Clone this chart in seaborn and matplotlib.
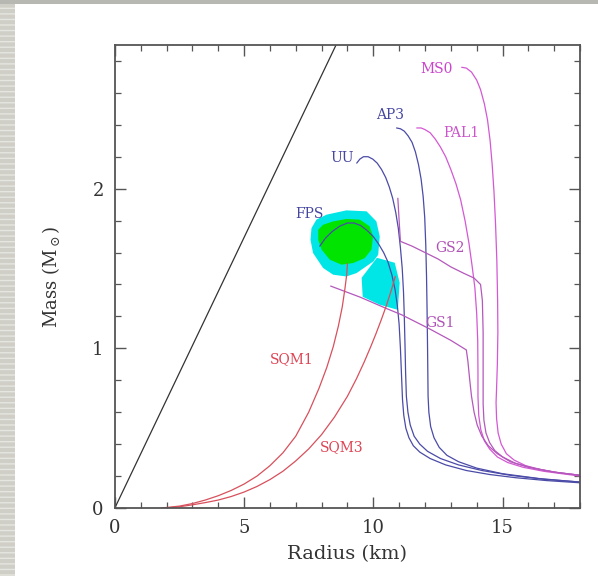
import numpy as np
import matplotlib
matplotlib.use("Agg")
import matplotlib.pyplot as plt
import seaborn as sns
from matplotlib.patches import Rectangle

# mass-radius curves (radius km, mass Msun)
bh_r = [0.0, 8.56]
bh_m = [0.0, 2.90]

fps_r = [7.93, 8.15, 8.4, 8.7, 9.0, 9.25, 9.5, 9.75, 10.0, 10.2, 10.4, 10.57, 10.72, 10.84, 10.93, 11.0, 11.05,
         11.1, 11.13, 11.18, 11.26, 11.38, 11.55, 11.8, 12.2, 12.8, 13.6, 14.5, 15.5, 16.7, 18.0]
fps_m = [1.64, 1.69, 1.73, 1.765, 1.785, 1.785, 1.77, 1.74, 1.7, 1.655, 1.6, 1.54, 1.46, 1.37, 1.27, 1.15, 1.0,
         0.8, 0.68, 0.58, 0.5, 0.44, 0.39, 0.35, 0.31, 0.27, 0.235, 0.21, 0.19, 0.172, 0.158]

uu_r = [9.36, 9.48, 9.62, 9.8, 9.98, 10.15, 10.32, 10.48, 10.62, 10.75, 10.87, 10.97, 11.05, 11.12, 11.17, 11.2,
        11.23, 11.25, 11.28, 11.34, 11.43, 11.58, 11.8, 12.1, 12.6, 13.3, 14.2, 15.3, 16.6, 18.0]
uu_m = [2.16, 2.185, 2.2, 2.2, 2.185, 2.16, 2.12, 2.07, 2.01, 1.94, 1.85, 1.75, 1.63, 1.5, 1.35, 1.2,
        1.0, 0.85, 0.7, 0.6, 0.52, 0.45, 0.4, 0.355, 0.31, 0.27, 0.235, 0.205, 0.18, 0.163]

ap3_r = [10.9, 11.05, 11.2, 11.35, 11.5, 11.63, 11.75, 11.85, 11.93, 11.99, 12.03, 12.06, 12.08, 12.1, 12.12,
         12.15, 12.22, 12.35, 12.55, 12.85, 13.3, 14.0, 15.0, 16.4, 18.0]
ap3_m = [2.38, 2.375, 2.36, 2.33, 2.29, 2.23, 2.15, 2.06, 1.95, 1.82, 1.65, 1.45, 1.25, 1.0, 0.7,
         0.6, 0.51, 0.44, 0.38, 0.33, 0.29, 0.25, 0.215, 0.185, 0.162]

ms0_r = [13.42, 13.6, 13.8, 14.0, 14.15, 14.3, 14.42, 14.52, 14.6, 14.67, 14.73, 14.78, 14.81, 14.82, 14.8,
         14.77, 14.75, 14.77, 14.83, 14.95, 15.15, 15.45, 15.9, 16.5, 17.2, 18.0]
ms0_m = [2.76, 2.755, 2.73, 2.68, 2.62, 2.53, 2.43, 2.3, 2.15, 1.98, 1.78, 1.55, 1.3, 1.1, 0.9,
         0.75, 0.66, 0.56, 0.47, 0.4, 0.34, 0.3, 0.265, 0.24, 0.22, 0.205]

pal1_r = [11.68, 11.85, 12.0, 12.2, 12.4, 12.6, 12.8, 13.0, 13.2, 13.38, 13.55, 13.7, 13.82, 13.93, 14.0, 14.04,
          14.05, 14.05, 14.08, 14.16, 14.3, 14.5, 14.8, 15.2, 15.8, 16.6, 17.3, 18.0]
pal1_m = [2.38, 2.38, 2.37, 2.35, 2.31, 2.26, 2.2, 2.12, 2.03, 1.93, 1.8, 1.66, 1.52, 1.38, 1.22, 1.05,
          0.85, 0.7, 0.58, 0.49, 0.42, 0.37, 0.32, 0.285, 0.255, 0.23, 0.215, 0.2]

gs2_r = [10.95, 11.0, 11.05, 11.5, 12.0, 12.5, 13.0, 13.5, 13.9, 14.15, 14.22, 14.25, 14.25, 14.25, 14.28,
         14.36, 14.5, 14.7, 15.0, 15.5, 16.2, 17.0, 18.0]
gs2_m = [1.94, 1.8, 1.67, 1.64, 1.6, 1.56, 1.51, 1.47, 1.44, 1.4, 1.3, 1.1, 0.85, 0.65, 0.55,
         0.47, 0.41, 0.36, 0.32, 0.28, 0.25, 0.225, 0.205]

gs1_r = [8.35, 9.5, 10.5, 11.1, 12.2, 13.0, 13.6, 13.66, 13.72, 13.8, 13.9, 14.02, 14.2, 14.45, 14.8, 15.3,
         16.0, 17.0, 18.0]
gs1_m = [1.39, 1.32, 1.25, 1.21, 1.12, 1.05, 0.99, 0.92, 0.82, 0.7, 0.6, 0.52, 0.45, 0.39, 0.34, 0.29,
         0.255, 0.225, 0.205]

sqm1_r = [1.8, 2.5, 3.0, 3.5, 4.0, 4.5, 5.0, 5.5, 6.0, 6.5, 7.0, 7.5, 7.9, 8.2, 8.45, 8.65, 8.8, 8.9, 8.97, 9.0]
sqm1_m = [0.0, 0.012, 0.028, 0.05, 0.077, 0.11, 0.15, 0.2, 0.265, 0.345, 0.45, 0.6, 0.75, 0.88, 1.01, 1.14,
          1.26, 1.37, 1.46, 1.53]

sqm3_r = [2.0, 2.5, 3.0, 3.5, 4.0, 4.5, 5.0, 5.5, 6.0, 6.5, 7.0, 7.5, 8.0, 8.5, 9.0, 9.35, 9.65, 9.9, 10.1,
          10.3, 10.5, 10.7, 10.85]
sqm3_m = [0.0, 0.008, 0.02, 0.034, 0.05, 0.072, 0.1, 0.135, 0.178, 0.23, 0.295, 0.37, 0.46, 0.57, 0.7, 0.81,
          0.915, 1.01, 1.09, 1.175, 1.265, 1.365, 1.45]

# observational constraint regions
cyan1_r = [7.61, 7.80, 8.19, 8.96, 9.74, 10.12, 10.25, 10.19, 10.0, 9.35, 8.96, 8.45, 8.06, 7.67, 7.57]
cyan1_m = [1.753, 1.806, 1.837, 1.864, 1.858, 1.795, 1.701, 1.586, 1.544, 1.471, 1.450, 1.461, 1.503, 1.597, 1.680]
green_r = [7.87, 8.06, 8.45, 8.96, 9.48, 9.86, 9.99, 9.93, 9.67, 9.22, 8.77, 8.32, 8.0, 7.87]
green_m = [1.743, 1.774, 1.795, 1.810, 1.806, 1.764, 1.701, 1.618, 1.565, 1.534, 1.524, 1.555, 1.618, 1.680]
cyan2_r = [10.14, 10.83, 11.02, 10.95, 10.25, 9.59, 9.55]
cyan2_m = [1.567, 1.536, 1.411, 1.241, 1.273, 1.323, 1.442]

labels = ["MS0", "AP3", "PAL1", "UU", "FPS", "GS2", "GS1", "SQM1", "SQM3"]
label_r = [12.46, 10.64, 13.42, 8.78, 7.54, 12.96, 12.57, 6.85, 8.78]
label_m = [2.75, 2.46, 2.35, 2.19, 1.84, 1.63, 1.16, 0.93, 0.38]

blue = "#4b4ba8"
pink = "#d458d4"
purple = "#b458bc"
red = "#d8505c"
label_colors = ["#cc44cc", "#4646a0", "#cc55cc", "#4646a0", "#4646a0",
                "#b050b8", "#b050b8", "#dd4455", "#dd4455"]

sns.set_style("ticks")
plt.rcParams["font.family"] = ["DejaVu Serif"]
plt.rcParams["mathtext.fontset"] = "dejavuserif"

fig = plt.figure(figsize=(5.98, 5.76), dpi=100)
ax = fig.add_axes([0.192, 0.118, 0.778, 0.804])

# slide background bits
fig.patches.append(Rectangle((0, 0), 15 / 598, 1, transform=fig.transFigure,
                             facecolor="#cfcfc8", edgecolor="#e6e6e0", hatch="---", lw=0))
fig.patches.append(Rectangle((0, 1 - 4 / 576), 1, 4 / 576, transform=fig.transFigure,
                             facecolor="#b8b8b2", lw=0))

ax.fill(cyan1_r, cyan1_m, color="#00e6e6", lw=0, zorder=1)
ax.fill(cyan2_r, cyan2_m, color="#00e6e6", lw=0, zorder=1)
ax.fill(green_r, green_m, color="#00e400", lw=0, zorder=1.5)

curves = [
    (bh_r, bh_m, "#333333"),
    (fps_r, fps_m, blue), (uu_r, uu_m, blue), (ap3_r, ap3_m, blue),
    (ms0_r, ms0_m, pink), (pal1_r, pal1_m, pink),
    (gs2_r, gs2_m, purple), (gs1_r, gs1_m, purple),
    (sqm1_r, sqm1_m, red), (sqm3_r, sqm3_m, red),
]
for r, m, c in curves:
    sns.lineplot(x=r, y=m, sort=False, estimator=None, color=c, lw=0.9, ax=ax, zorder=2)

for t, r, m, c in zip(labels, label_r, label_m, label_colors):
    ax.text(r, m, t, color=c, fontsize=10, ha="center", va="center", zorder=3)

ax.set_xlim(0, 18)
ax.set_ylim(0, 2.9)
ax.set_xticks([0, 5, 10, 15])
ax.set_yticks([0, 1, 2])
ax.set_xticks(np.arange(0, 18.1, 1), minor=True)
ax.set_yticks(np.arange(0, 2.9, 0.2), minor=True)
ax.tick_params(which="both", direction="in", top=True, right=True,
               colors="#555555", labelcolor="#333333", labelsize=13, pad=8)
ax.tick_params(which="major", length=8, width=1)
ax.tick_params(which="minor", length=4.5, width=0.9)
for s in ax.spines.values():
    s.set_color("#555555")
    s.set_linewidth(1.3)

ax.set_xlabel("Radius (km)", fontsize=14, color="#333333", labelpad=6)
ax.set_ylabel(r"Mass (M$_\odot$)", fontsize=13, color="#333333", labelpad=22)

fig.savefig("out.png", dpi=100, facecolor="white")
